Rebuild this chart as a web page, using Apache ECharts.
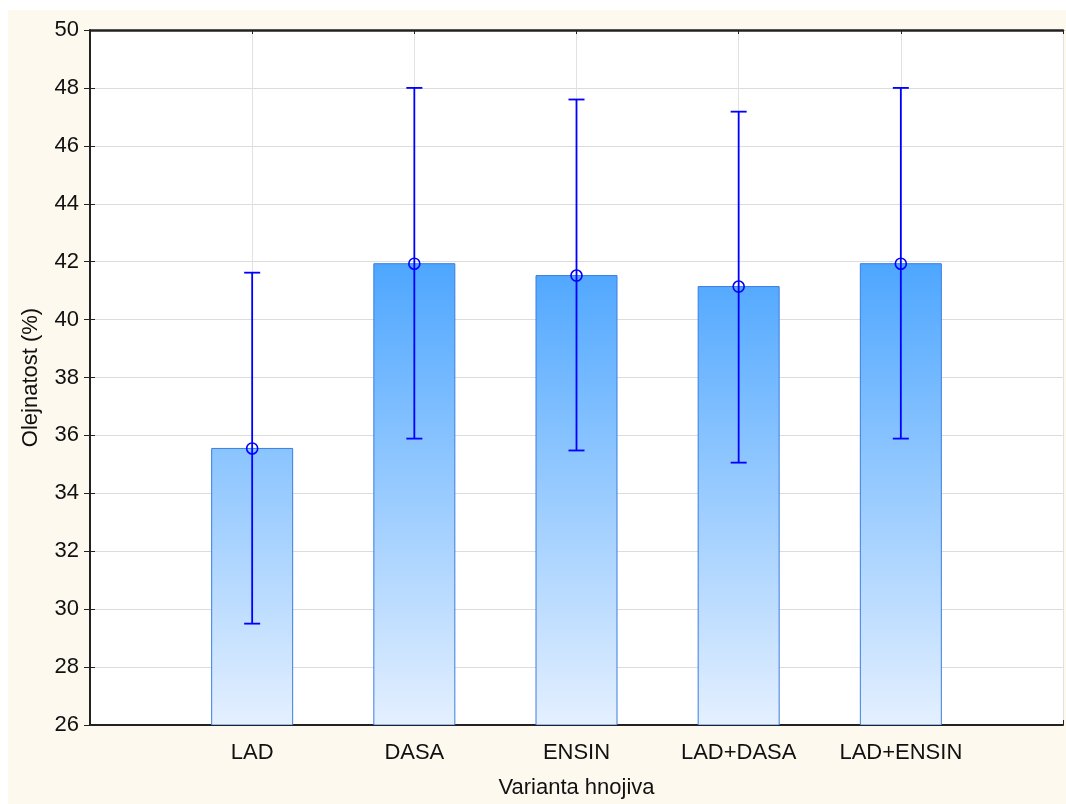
<!DOCTYPE html>
<html>
<head>
<meta charset="utf-8">
<script src="https://cdn.jsdelivr.net/npm/echarts@6/dist/echarts.min.js"></script>
<style>
html,body{margin:0;padding:0;background:#ffffff;overflow:hidden;}
#bg{position:absolute;left:8px;top:10px;right:0;bottom:0;background:#fdf9ef;}
#chart{position:absolute;left:0;top:0;width:1066px;height:804px;}
</style>
</head>
<body>
<div id="bg"></div>
<div id="chart"></div>
<script>
var categories = ['LAD', 'DASA', 'ENSIN', 'LAD+DASA', 'LAD+ENSIN'];
var means = [35.55, 41.93, 41.52, 41.14, 41.93];
var lowerErr = [29.50, 35.89, 35.48, 35.06, 35.89];
var upperErr = [41.62, 48.00, 47.60, 47.18, 48.00];
var yTicks = [26, 28, 30, 32, 34, 36, 38, 40, 42, 44, 46, 48, 50];

var barData = categories.map(function (c, i) { return [i + 1, means[i]]; });
var errData = categories.map(function (c, i) { return [i + 1, lowerErr[i], upperErr[i], means[i]]; });

var chart = echarts.init(document.getElementById('chart'), null, {renderer: 'canvas', width: 1066, height: 804});
var FONT = 'Liberation Sans, Arial, sans-serif';
var FS = 22;

function renderBar(params, api) {
  var x = api.value(0), v = api.value(1);
  var top = api.coord([x, v]);
  var base = api.coord([x, yTicks[0]]);
  var ref = api.coord([x, 42]);
  var w = 81;
  return {
    type: 'rect',
    shape: {x: top[0] - w / 2, y: top[1], width: w, height: base[1] - top[1]},
    style: {
      fill: new echarts.graphic.LinearGradient(0, base[1], 0, ref[1], [
        {offset: 0, color: '#e4f0ff'},
        {offset: 1, color: '#4da6ff'}
      ], true),
      stroke: '#3b7de0',
      lineWidth: 1
    }
  };
}

function renderErr(params, api) {
  var x = api.value(0);
  var lo = api.coord([x, api.value(1)]);
  var hi = api.coord([x, api.value(2)]);
  var m = api.coord([x, api.value(3)]);
  var cap = 8;
  var st = {stroke: '#0000ff', lineWidth: 1.8, fill: null};
  return {
    type: 'group',
    children: [
      {type: 'line', shape: {x1: lo[0], y1: lo[1], x2: hi[0], y2: hi[1]}, style: st},
      {type: 'line', shape: {x1: lo[0] - cap, y1: lo[1], x2: lo[0] + cap, y2: lo[1]}, style: st},
      {type: 'line', shape: {x1: hi[0] - cap, y1: hi[1], x2: hi[0] + cap, y2: hi[1]}, style: st},
      {type: 'circle', shape: {cx: m[0], cy: m[1], r: 5.5}, style: {stroke: '#0000ff', lineWidth: 1.6, fill: null}}
    ]
  };
}

var option = {
  animation: false,
  backgroundColor: 'transparent',
  grid: {left: 90, top: 30, width: 978, height: 699, show: true, backgroundColor: '#ffffff', borderWidth: 0},
  xAxis: [{
    type: 'value', min: 0, max: categories.length + 1, interval: 1, position: 'bottom',
    name: 'Varianta hnojiva', nameLocation: 'middle', nameGap: 52,
    nameTextStyle: {fontFamily: FONT, fontSize: FS, color: '#111'},
    axisLine: {show: true, onZero: false, lineStyle: {color: '#222', width: 2}},
    axisTick: {show: true, inside: true, length: 5, lineStyle: {color: '#222'}},
    axisLabel: {
      fontFamily: FONT, fontSize: FS, color: '#111', margin: 17,
      formatter: function (v) { return categories[v - 1] || ''; }
    },
    splitLine: {show: true, lineStyle: {color: '#e2e2e2', width: 1}}
  }, {
    type: 'value', min: 0, max: categories.length + 1, interval: 1, position: 'top',
    axisLine: {show: true, onZero: false, lineStyle: {color: '#222', width: 2.5}},
    axisTick: {show: true, inside: true, length: 4, lineStyle: {color: '#222'}},
    axisLabel: {show: false},
    splitLine: {show: false}
  }],
  yAxis: [{
    type: 'value', min: yTicks[0], max: yTicks[yTicks.length - 1], interval: 2, position: 'left',
    name: 'Olejnatost (%)', nameLocation: 'middle', nameGap: 48,
    nameTextStyle: {fontFamily: FONT, fontSize: FS, color: '#111'},
    axisLine: {show: true, onZero: false, lineStyle: {color: '#222', width: 2}},
    axisTick: {show: true, inside: true, length: 5, lineStyle: {color: '#222'}},
    axisLabel: {fontFamily: FONT, fontSize: FS, color: '#111', margin: 11},
    splitLine: {show: true, lineStyle: {color: '#dcdcdc', width: 1}}
  }, {
    type: 'value', min: yTicks[0], max: yTicks[yTicks.length - 1], interval: 2, position: 'right',
    axisLine: {show: false},
    axisTick: {show: true, inside: true, length: 6, lineStyle: {color: '#222'}},
    axisLabel: {show: false},
    splitLine: {show: false}
  }],
  series: [{
    type: 'custom', xAxisIndex: 0, yAxisIndex: 0,
    renderItem: renderBar, data: barData, clip: true, z: 2
  }, {
    type: 'custom', xAxisIndex: 0, yAxisIndex: 0,
    renderItem: renderErr, data: errData, z: 3
  }]
};
chart.setOption(option);
</script>
</body>
</html>
